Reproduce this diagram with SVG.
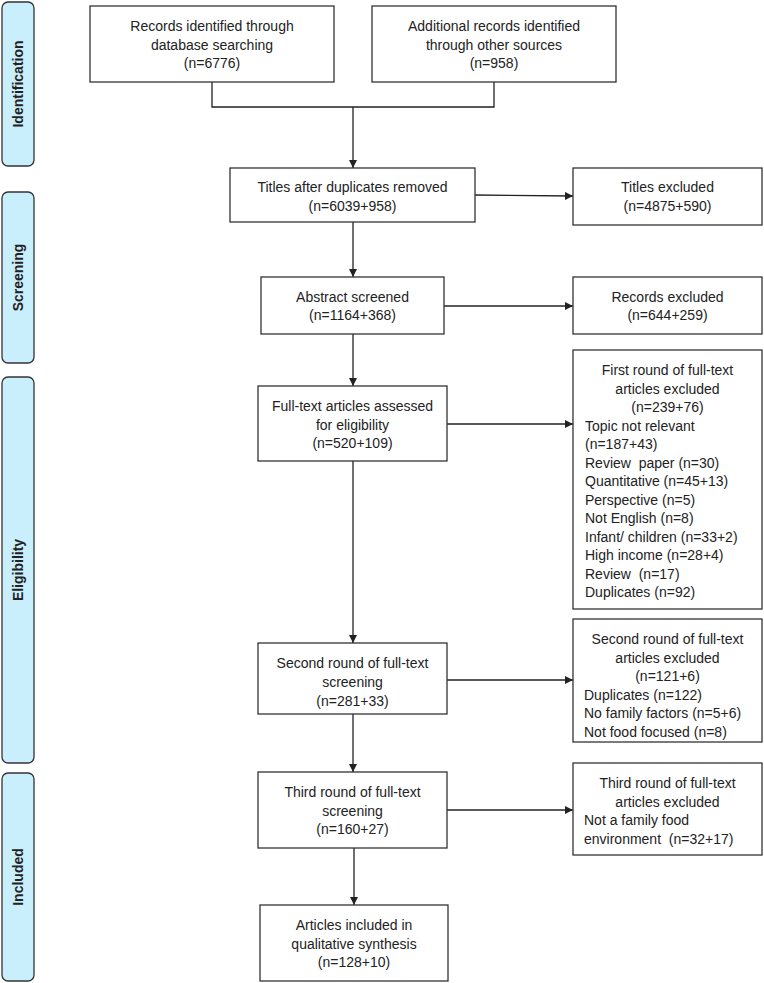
<svg xmlns="http://www.w3.org/2000/svg" width="764" height="983" viewBox="0 0 764 983">
<style>
  .box { fill: #ffffff; stroke: #333333; stroke-width: 1.3; }
  .side { fill: #c9effc; stroke: #333333; stroke-width: 1.3; }
  .t { font-family: "Liberation Sans", Arial, sans-serif; font-size: 14px; fill: #222222; }
  .c { text-anchor: middle; }
  .st { font-family: "Liberation Sans", Arial, sans-serif; font-size: 14px; font-weight: bold; fill: #222222; text-anchor: middle; }
  .ln { fill: none; stroke: #222222; stroke-width: 1.3; }
  .ar { fill: none; stroke: #222222; stroke-width: 1.3; marker-end: url(#arrow); }
</style>
<defs>
  <marker id="arrow" viewBox="0 0 10 10" refX="10" refY="5" markerWidth="8" markerHeight="8" markerUnits="userSpaceOnUse" orient="auto">
    <path d="M0,0 L10,5 L0,10 Z" fill="#222222"/>
  </marker>
</defs>
<rect width="764" height="983" fill="#ffffff"/>

<g id="stage-identification">
  <rect class="side" x="2" y="2" width="32" height="164" rx="6"/>
  <text class="st" transform="translate(18,84) rotate(-90)" dy="0.35em">Identification</text>
</g>
<g id="stage-screening">
  <rect class="side" x="2" y="192" width="32" height="171" rx="6"/>
  <text class="st" transform="translate(18,277.5) rotate(-90)" dy="0.35em">Screening</text>
</g>
<g id="stage-eligibility">
  <rect class="side" x="2" y="377" width="32" height="386" rx="6"/>
  <text class="st" transform="translate(18,570) rotate(-90)" dy="0.35em">Eligibility</text>
</g>
<g id="stage-included">
  <rect class="side" x="2" y="773" width="32" height="208" rx="6"/>
  <text class="st" transform="translate(18,877) rotate(-90)" dy="0.35em">Included</text>
</g>

<g id="connectors">
  <path class="ln" d="M212,82 V107 H494 V82"/>
  <path class="ar" d="M353,107 V168"/>
  <path class="ar" d="M475,195 L573,196"/>
  <path class="ar" d="M353,222 V277"/>
  <path class="ar" d="M444,306 H573"/>
  <path class="ar" d="M353,334 V386"/>
  <path class="ar" d="M447,424 H573"/>
  <path class="ar" d="M353,461 V643"/>
  <path class="ar" d="M447,680 H573"/>
  <path class="ar" d="M353,714 V772"/>
  <path class="ar" d="M447,810 H573"/>
  <path class="ar" d="M354,848 V905"/>
</g>

<g id="db-records">
  <rect class="box" x="90" y="6" width="244" height="76"/>
  <text class="t c" x="212" y="31">Records identified through</text>
  <text class="t c" x="212" y="50">database searching</text>
  <text class="t c" x="212" y="68">(n=6776)</text>
</g>
<g id="other-records">
  <rect class="box" x="372" y="6" width="244" height="76"/>
  <text class="t c" x="494" y="31">Additional records identified</text>
  <text class="t c" x="494" y="50">through other sources</text>
  <text class="t c" x="494" y="68">(n=958)</text>
</g>
<g id="titles-dedup">
  <rect class="box" x="230" y="168" width="245" height="54"/>
  <text class="t c" x="352.5" y="192">Titles after duplicates removed</text>
  <text class="t c" x="352.5" y="211">(n=6039+958)</text>
</g>
<g id="titles-excluded">
  <rect class="box" x="573" y="168" width="189" height="57"/>
  <text class="t c" x="667.5" y="192">Titles excluded</text>
  <text class="t c" x="667.5" y="211">(n=4875+590)</text>
</g>
<g id="abstract-screened">
  <rect class="box" x="261" y="277" width="183" height="57"/>
  <text class="t c" x="352.5" y="302">Abstract screened</text>
  <text class="t c" x="352.5" y="320">(n=1164+368)</text>
</g>
<g id="records-excluded">
  <rect class="box" x="573" y="277" width="189" height="57"/>
  <text class="t c" x="667.5" y="302">Records excluded</text>
  <text class="t c" x="667.5" y="320">(n=644+259)</text>
</g>
<g id="fulltext-assessed">
  <rect class="box" x="258" y="386" width="189" height="75"/>
  <text class="t c" x="352.5" y="411">Full-text articles assessed</text>
  <text class="t c" x="352.5" y="430">for eligibility</text>
  <text class="t c" x="352.5" y="448">(n=520+109)</text>
</g>
<g id="first-excluded">
  <rect class="box" x="573" y="350" width="189" height="259"/>
  <text class="t c" x="667.5" y="375">First round of full-text</text>
  <text class="t c" x="667.5" y="393.5">articles excluded</text>
  <text class="t c" x="667.5" y="412">(n=239+76)</text>
  <text class="t" x="585" y="430.5">Topic not relevant</text>
  <text class="t" x="585" y="449">(n=187+43)</text>
  <text class="t" x="585" y="467.5" xml:space="preserve">Review  paper (n=30)</text>
  <text class="t" x="585" y="486">Quantitative (n=45+13)</text>
  <text class="t" x="585" y="504.5">Perspective (n=5)</text>
  <text class="t" x="585" y="523">Not English (n=8)</text>
  <text class="t" x="585" y="541.5">Infant/ children (n=33+2)</text>
  <text class="t" x="585" y="560">High income (n=28+4)</text>
  <text class="t" x="585" y="578.5" xml:space="preserve">Review  (n=17)</text>
  <text class="t" x="585" y="597">Duplicates (n=92)</text>
</g>
<g id="second-round">
  <rect class="box" x="258" y="643" width="189" height="71"/>
  <text class="t c" x="352.5" y="668">Second round of full-text</text>
  <text class="t c" x="352.5" y="687">screening</text>
  <text class="t c" x="352.5" y="706">(n=281+33)</text>
</g>
<g id="second-excluded">
  <rect class="box" x="573" y="619" width="189" height="123"/>
  <text class="t c" x="667.5" y="644">Second round of full-text</text>
  <text class="t c" x="667.5" y="662.5">articles excluded</text>
  <text class="t c" x="667.5" y="681">(n=121+6)</text>
  <text class="t" x="584" y="699.5">Duplicates (n=122)</text>
  <text class="t" x="584" y="718">No family factors (n=5+6)</text>
  <text class="t" x="584" y="736.5">Not food focused (n=8)</text>
</g>
<g id="third-round">
  <rect class="box" x="258" y="772" width="189" height="76"/>
  <text class="t c" x="352.5" y="797">Third round of full-text</text>
  <text class="t c" x="352.5" y="816">screening</text>
  <text class="t c" x="352.5" y="834">(n=160+27)</text>
</g>
<g id="third-excluded">
  <rect class="box" x="573" y="763" width="189" height="92"/>
  <text class="t c" x="667.5" y="788">Third round of full-text</text>
  <text class="t c" x="667.5" y="806.5">articles excluded</text>
  <text class="t" x="584" y="825">Not a family food</text>
  <text class="t" x="584" y="843.5" xml:space="preserve">environment  (n=32+17)</text>
</g>
<g id="included">
  <rect class="box" x="260" y="905" width="188" height="76"/>
  <text class="t c" x="354" y="930">Articles included in</text>
  <text class="t c" x="354" y="949">qualitative synthesis</text>
  <text class="t c" x="354" y="967">(n=128+10)</text>
</g>
</svg>
